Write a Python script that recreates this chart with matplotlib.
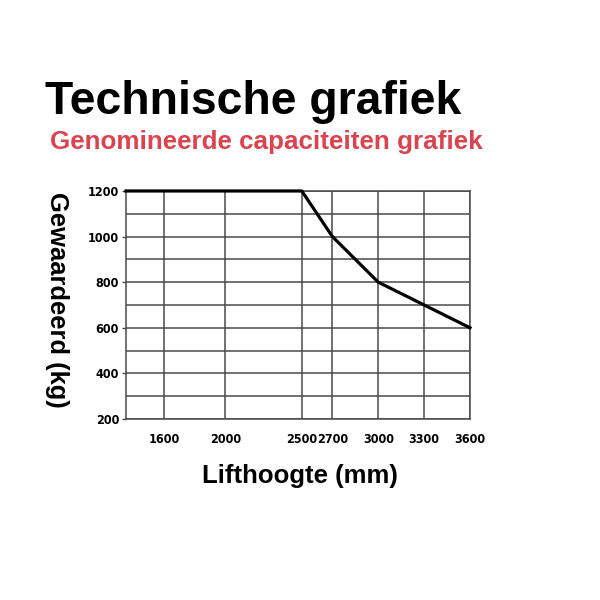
import matplotlib
matplotlib.use("Agg")
import matplotlib.pyplot as plt
from matplotlib import font_manager

# data
lift_mm = [1350, 2500, 2700, 3000, 3300, 3600]
capacity_kg = [1200, 1200, 1000, 800, 700, 600]
x_ticks = [1600, 2000, 2500, 2700, 3000, 3300, 3600]
y_ticks = [200, 400, 600, 800, 1000, 1200]
y_grid = list(range(200, 1201, 100))

plt.rcParams['font.family'] = ['Liberation Sans', 'DejaVu Sans']

# look for a condensed face for the tick numbers
cond = [f for f in font_manager.fontManager.ttflist
        if f.stretch in ('condensed', 'semi-condensed', 'extra-condensed', 600, 500)
        or 'Narrow' in f.name or 'Condensed' in f.name]
tick_font = None
for f in cond:
    if f.weight in ('bold', 700) or 'Bold' in f.fname:
        tick_font = font_manager.FontProperties(fname=f.fname, size=9)
        break
if tick_font is None:
    tick_font = font_manager.FontProperties(family='Liberation Sans', weight='bold', size=8)

fig = plt.figure(figsize=(6, 6), dpi=100)
ax = fig.add_axes([0.21, 0.3017, 0.5733, 0.38])

grid_col = '#4a4a4a'
for x in x_ticks:
    ax.axvline(x, color=grid_col, lw=1.1, zorder=1)
for y in y_grid:
    ax.axhline(y, color=grid_col, lw=1.1, zorder=1)

ax.plot(lift_mm, capacity_kg, color='black', lw=2.3, zorder=3, clip_on=False,
        solid_joinstyle='round')

ax.set_xlim(1350, 3600)
ax.set_ylim(200, 1200)
ax.set_xticks(x_ticks)
ax.set_yticks(y_ticks)
ax.tick_params(axis='x', length=0, pad=10)
ax.tick_params(axis='y', length=3, width=1, color=grid_col, pad=2)
for lab in ax.get_xticklabels() + ax.get_yticklabels():
    lab.set_fontproperties(tick_font)
for s in ax.spines.values():
    s.set_color(grid_col)
    s.set_linewidth(1.1)

fig.text(0.075, 0.83, 'Technische grafiek', fontsize=33.4, fontweight='bold',
         color='black', ha='left', va='center')
fig.text(0.083, 0.764, 'Genomineerde capaciteiten grafiek', fontsize=18.7,
         fontweight='bold', color='#d9444f', ha='left', va='center')
fig.text(0.5, 0.207, 'Lifthoogte (mm)', fontsize=18.5, fontweight='bold',
         ha='center', va='center')
fig.text(0.095, 0.5, 'Gewaardeerd (kg)', fontsize=18.4, fontweight='bold',
         ha='center', va='center', rotation=-90)

fig.savefig('out.png', dpi=100)
